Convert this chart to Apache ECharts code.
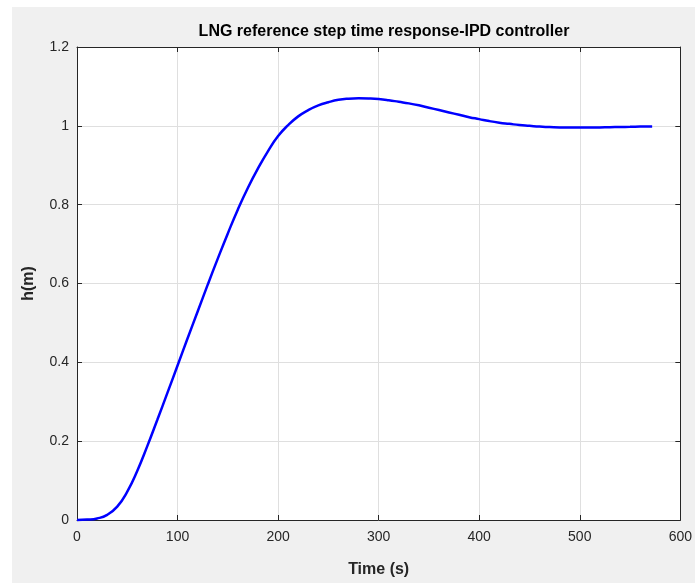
<!DOCTYPE html>
<html>
<head>
<meta charset="utf-8">
<script src="https://cdn.jsdelivr.net/npm/echarts@6/dist/echarts.min.js"></script>
<style>
html,body{margin:0;padding:0;background:#ffffff;}
#chart{width:695px;height:583px;}
</style>
</head>
<body>
<div id="chart"></div>
<script>
var titleText = 'LNG reference step time response-IPD controller';
var xLabel = 'Time (s)';
var yLabel = 'h(m)';
var xTicks = [0, 100, 200, 300, 400, 500, 600];
var yTicks = [0, 0.2, 0.4, 0.6, 0.8, 1, 1.2];
var timeS = [0,10,20,30,40,50,60,70,80,90,100,110,120,130,140,150,160,170,180,190,200,210,220,230,240,250,260,270,280,290,300,310,320,330,340,350,360,370,380,390,400,410,420,430,440,450,460,470,480,490,500,510,520,530,540,550,560,572];
var heightM = [0,0.001,0.004,0.013,0.034,0.072,0.125,0.188,0.255,0.323,0.392,0.461,0.529,0.597,0.663,0.727,0.788,0.843,0.892,0.936,0.974,1.002,1.024,1.04,1.052,1.06,1.066,1.069,1.07,1.0695,1.068,1.065,1.061,1.057,1.052,1.046,1.04,1.034,1.028,1.022,1.017,1.012,1.008,1.005,1.002,1.0,0.998,0.997,0.996,0.9955,0.9955,0.9955,0.996,0.9965,0.997,0.9975,0.998,0.9985];

var seriesData = timeS.map(function(t, i){ return [t, heightM[i]]; });
var axisColor = '#262626';
var gridColor = '#dfdfdf';
var font = 'Liberation Sans, Arial, Helvetica, sans-serif';

var chart = echarts.init(document.getElementById('chart'), null, {renderer:'canvas'});
chart.setOption({
  animation: false,
  backgroundColor: '#ffffff',
  graphic: [{
    type: 'rect', z: -10, silent: true,
    shape: {x: 12, y: 7, width: 683, height: 576},
    style: {fill: '#f0f0f0'}
  }],
  title: {
    text: titleText,
    left: 379, top: 19, textAlign: 'center',
    textStyle: {fontFamily: font, fontSize: 16, fontWeight: 'bold', color: '#000'}
  },
  grid: {
    left: 77, right: 14, top: 47, bottom: 61,
    show: true, backgroundColor: '#ffffff', borderWidth: 0
  },
  xAxis: [{
    type: 'value', min: 0, max: 600, interval: 100,
    name: xLabel, nameLocation: 'middle', nameGap: 42,
    nameTextStyle: {fontFamily: font, fontSize: 16, fontWeight: 'bold', color: axisColor},
    axisLine: {show: true, onZero: false, lineStyle: {color: axisColor, width: 1}},
    axisTick: {show: true, inside: true, length: 5, lineStyle: {color: axisColor}},
    axisLabel: {fontFamily: font, fontSize: 14, color: axisColor, margin: 10},
    splitLine: {show: true, lineStyle: {color: gridColor, width: 1}}
  }, {
    type: 'value', min: 0, max: 600, interval: 100, position: 'top',
    axisLine: {show: true, onZero: false, lineStyle: {color: axisColor, width: 1}},
    axisTick: {show: true, inside: true, length: 5, lineStyle: {color: axisColor}},
    axisLabel: {show: false},
    splitLine: {show: false}
  }],
  yAxis: [{
    type: 'value', min: 0, max: 1.2, interval: 0.2,
    name: yLabel, nameLocation: 'middle', nameGap: 40, nameRotate: 90,
    nameTextStyle: {fontFamily: font, fontSize: 16, fontWeight: 'bold', color: axisColor},
    axisLine: {show: true, onZero: false, lineStyle: {color: axisColor, width: 1}},
    axisTick: {show: true, inside: true, length: 5, lineStyle: {color: axisColor}},
    axisLabel: {fontFamily: font, fontSize: 14, color: axisColor, margin: 8,
      formatter: function(v){ return String(Math.round(v*10)/10); }},
    splitLine: {show: true, lineStyle: {color: gridColor, width: 1}}
  }, {
    type: 'value', min: 0, max: 1.2, interval: 0.2, position: 'right',
    axisLine: {show: true, onZero: false, lineStyle: {color: axisColor, width: 1}},
    axisTick: {show: true, inside: true, length: 5, lineStyle: {color: axisColor}},
    axisLabel: {show: false},
    splitLine: {show: false}
  }],
  series: [{
    type: 'line', xAxisIndex: 0, yAxisIndex: 0,
    data: seriesData, showSymbol: false, smooth: 0.5,
    lineStyle: {color: '#0000ff', width: 2.5},
    clip: false
  }]
});
</script>
</body>
</html>
